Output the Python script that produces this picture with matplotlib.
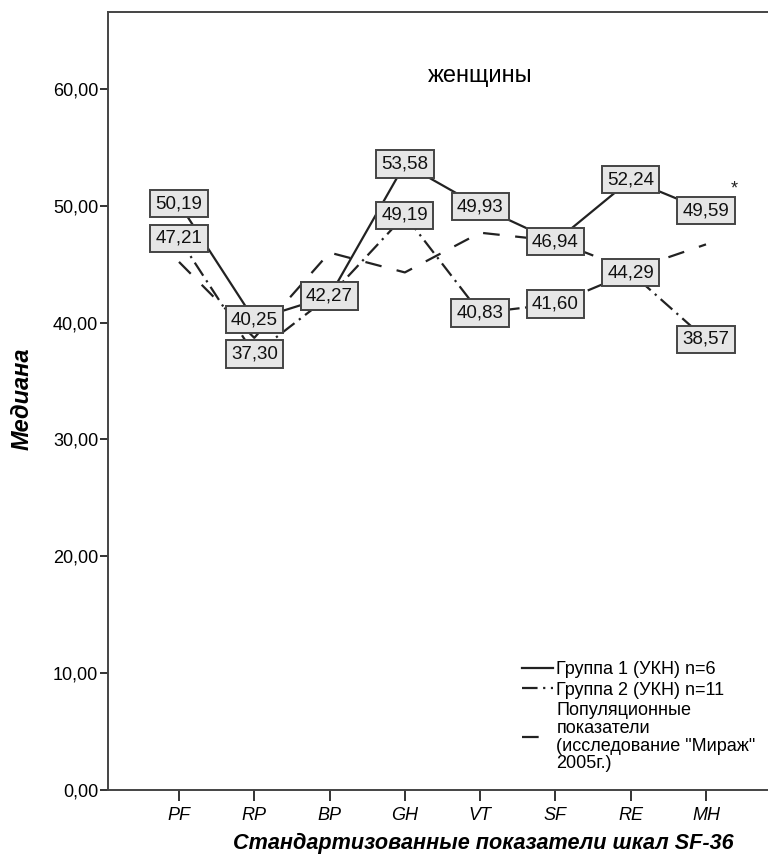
import matplotlib.pyplot as plt
import numpy as np

plt.rcParams['font.family'] = ['Liberation Sans', 'DejaVu Sans']

scales = ['PF', 'RP', 'BP', 'GH', 'VT', 'SF', 'RE', 'MH']
group1 = [50.19, 40.25, 42.27, 53.58, 49.93, 46.94, 52.24, 49.59]
group2 = [47.21, 37.30, 42.27, 49.19, 40.83, 41.60, 44.29, 38.57]
population = [45.2, 38.7, 46.0, 44.3, 47.7, 47.0, 44.5, 46.7]
yticks = [0, 10, 20, 30, 40, 50, 60]

labels = ['Группа 1 (УКН) n=6', 'Группа 2 (УКН) n=11',
          'Популяционные\nпоказатели\n(исследование "Мираж"\n2005г.)']

W, H = 768, 859
fig = plt.figure(figsize=(W / 100, H / 100), dpi=100)
ax = fig.add_axes([108 / W, (H - 790) / H, (777 - 108) / W, (790 - 12) / H])

x = np.arange(1, len(scales) + 1)
col = '#222222'
l1, = ax.plot(x, group1, color=col, lw=1.6, ls='-', zorder=3)
l2, = ax.plot(x, group2, color=col, lw=1.6, ls=(0, (7, 2.5, 1, 2.5)), zorder=3)
l3, = ax.plot(x, population, color=col, lw=1.6, ls=(0, (7.5, 7)), zorder=2)

box = dict(boxstyle='square,pad=0.28', fc='#e6e6e6', ec='#444444', lw=1.4)
for vals in [group2, group1]:
    for xi, v in zip(x, vals):
        ax.text(xi, v, f'{v:.2f}'.replace('.', ','), ha='center', va='center',
                fontsize=13.5, color='#111111', bbox=box, zorder=5)

ax.text(8.38, 51.4, '*', fontsize=13, color='#222222', ha='center', va='center')

ax.set_xlim(0.057, 8.943)
ax.set_ylim(0, 66.59)
ax.set_xticks(x)
ax.set_xticklabels(scales, fontsize=13, style='italic')
ax.set_yticks(yticks)
ax.set_yticklabels([f'{v:.2f}'.replace('.', ',') for v in yticks], fontsize=13)
ax.tick_params(axis='x', length=8, width=1.4, color='#333333', pad=4)
ax.tick_params(axis='y', length=6, width=1.4, color='#333333', pad=1)
for s in ['left', 'bottom', 'top']:
    ax.spines[s].set_linewidth(1.4)
    ax.spines[s].set_color('#444444')
ax.spines['right'].set_visible(False)

fig.text(480 / W, 1 - 82 / H, 'женщины', fontsize=17, ha='center', va='baseline')
fig.text(22 / W, 1 - 399 / H, 'Медиана', fontsize=17, rotation=90,
         fontweight='bold', style='italic', ha='center', va='center')
fig.text(483 / W, 1 - 843 / H, 'Стандартизованные показатели шкал SF-36',
         fontsize=15.6, fontweight='bold', style='italic',
         ha='center', va='center')

ax.legend([l1, l2, l3], labels, loc='upper left',
          bbox_to_anchor=(522 / W, 1 - 661 / H), bbox_transform=fig.transFigure,
          frameon=False, fontsize=13, handlelength=1.7, handletextpad=0.2,
          borderpad=0, borderaxespad=0, labelspacing=0.2)
for t in ax.get_legend().get_texts():
    t.set_linespacing(1.05)

fig.savefig('out.png', dpi=100)
